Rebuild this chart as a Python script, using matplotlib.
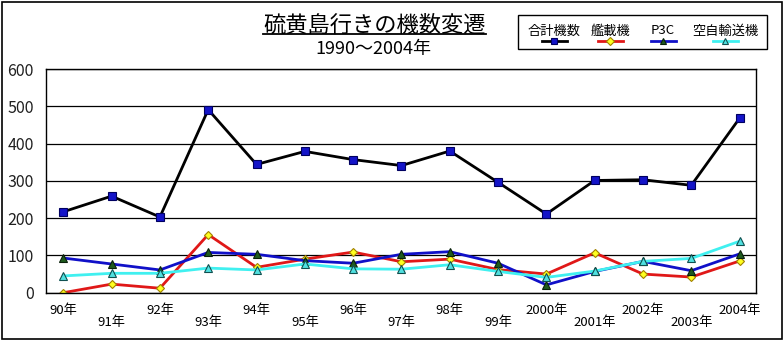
import matplotlib.pyplot as plt
from matplotlib.lines import Line2D
from matplotlib.patches import Rectangle

plt.rcParams['font.family'] = ['Noto Sans CJK JP', 'DejaVu Sans']

# yearly counts of aircraft to Iwo To, 1990-2004
years = ['90年', '91年', '92年', '93年', '94年', '95年', '96年', '97年',
         '98年', '99年', '2000年', '2001年', '2002年', '2003年', '2004年']
total = [217, 259, 203, 491, 344, 379, 357, 341, 380, 296, 211, 301, 303, 288, 468]
carrier = [0, 23, 12, 156, 68, 90, 109, 83, 90, 62, 50, 107, 50, 42, 85]
p3c = [93, 77, 61, 108, 103, 86, 79, 103, 110, 79, 21, 57, 84, 59, 104]
transport = [45, 52, 52, 66, 61, 77, 64, 63, 75, 57, 41, 58, 84, 92, 138]

series_names = ['合計機数', '艦載機', 'P3C', '空自輸送機']
yticks = [0, 100, 200, 300, 400, 500, 600]

styles = [
    dict(color='black', marker='s', mfc='#1414c8', mec='#000060', ms=5.2),
    dict(color='#e01818', marker='D', mfc='#ffff20', mec='#a08000', ms=4.3),
    dict(color='#1010c8', marker='^', mfc='#1e5a1e', mec='#0a200a', ms=5.8),
    dict(color='#40f0f0', marker='^', mfc='#50e0e0', mec='#105050', ms=5.8),
]

W, H = 784, 340
fig = plt.figure(figsize=(W / 100, H / 100), dpi=100)

# outer frame
fig.patches.append(Rectangle((1.5 / W, 1.5 / H), (W - 3.5) / W, (H - 3.5) / H,
                             transform=fig.transFigure, fill=False,
                             edgecolor='black', lw=1.2))

ax = fig.add_axes([46 / W, 47.3 / H, 710 / W, 223.7 / H])
x = list(range(len(years)))
for vals, st in zip([total, carrier, p3c, transport], styles):
    ax.plot(x, vals, lw=2.0, mew=0.8, **st)

ax.set_xlim(-0.358, 14.34)
ax.set_ylim(0, 600)
ax.set_yticks(yticks)
ax.set_yticklabels([str(v) for v in yticks], fontsize=11.5, color='#202020')
ax.tick_params(axis='y', length=0, pad=9)
ax.set_xticks(x)
ax.set_xticklabels(years, fontsize=9.5)
ax.tick_params(axis='x', length=0)
for i, lab in enumerate(ax.get_xticklabels()):
    lab.set_y(-0.028 if i % 2 == 0 else -0.083)
ax.grid(axis='y', color='black', lw=0.9)
ax.set_axisbelow(True)
for sp in ax.spines.values():
    sp.set_linewidth(1.0)

# title with underline
title = fig.text(374.5 / W, 1 - 25 / H, '硫黄島行きの機数変遷', fontsize=16,
                 ha='center', va='center')
fig.text(373 / W, 1 - 49 / H, '1990～2004年', fontsize=13,
         ha='center', va='center')
fig.canvas.draw()
bb = title.get_window_extent().transformed(fig.transFigure.inverted())
fig.lines.append(Line2D([bb.x0, bb.x1], [1 - 34 / H] * 2,
                        transform=fig.transFigure, color='black', lw=1.3))

# legend: names above line samples
fig.patches.append(Rectangle((518 / W, 1 - 49.3 / H), 248.5 / W, 34.3 / H,
                             transform=fig.transFigure, fill=False,
                             edgecolor='black', lw=1.0))
centers = [554, 610, 663, 725]
for name, st, cx in zip(series_names, styles, centers):
    fig.text(cx / W, 1 - 31 / H, name, fontsize=9.5, ha='center', va='center')
    fig.lines.append(Line2D([(cx - 12.5) / W, (cx + 12.5) / W], [1 - 41 / H] * 2,
                            transform=fig.transFigure, lw=2.0, mew=0.8,
                            markevery=[], **st))
    small = dict(st, ms=st['ms'] * 0.85)
    fig.lines.append(Line2D([cx / W], [1 - 41 / H], transform=fig.transFigure,
                            ls='none', mew=0.8, **small))

fig.savefig('out.png', dpi=100)
